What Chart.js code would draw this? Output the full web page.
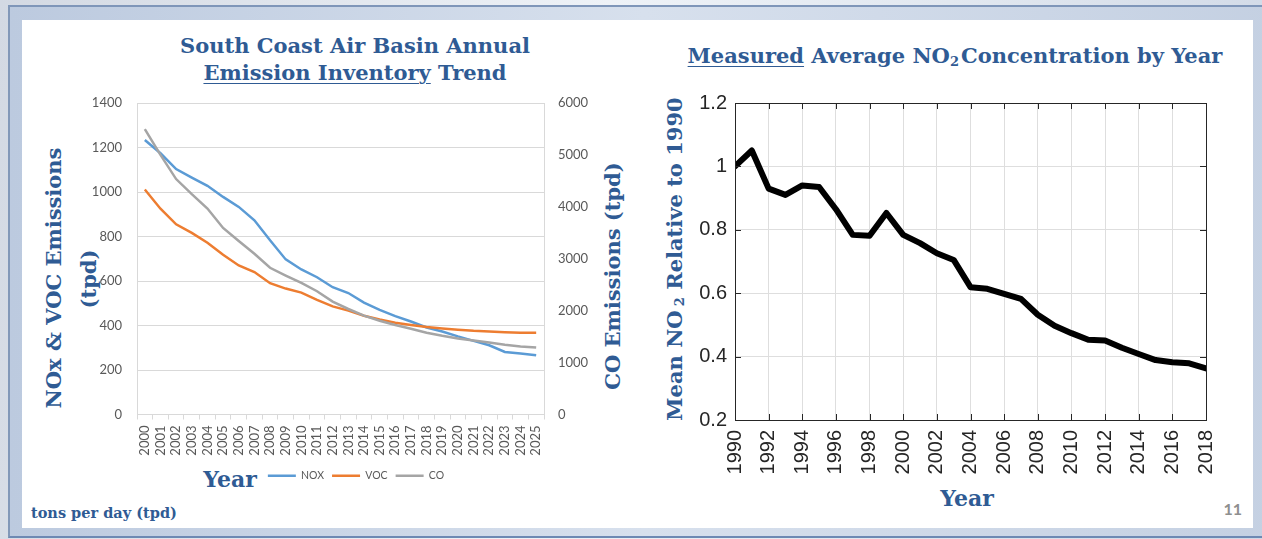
<!DOCTYPE html>
<html>
<head>
<meta charset="utf-8">
<script src="https://cdn.jsdelivr.net/npm/chart.js@4.4.1/dist/chart.umd.min.js"></script>
<style>
  html, body { margin: 0; padding: 0; }
  body {
    width: 1262px; height: 539px; position: relative; overflow: hidden;
    background: linear-gradient(100deg, #d3d9e3 0%, #eef2f7 45%, #e2e8f0 70%, #cfd8e6 100%);
  }
  #frame {
    position: absolute; left: 8px; top: 5px; width: 1270px; height: 533px; box-sizing: border-box;
    border-left: 2px solid #8298b8; border-top: 2px solid #7f96b9; border-bottom: 2px solid #6d89b3;
    background: linear-gradient(90deg, #bccadf, #d7e0ed 50%, #c4d0e2);
  }
  #panel { position: absolute; left: 22px; top: 20px; width: 1231px; height: 508px; background: #fff; }
  .t {
    position: absolute; color: #2f5b94; font-family: "DejaVu Serif", serif; font-weight: bold;
    white-space: nowrap; line-height: 1;
  }
  .h { transform: translateX(-50%); }
  .v { transform: translate(-50%, -50%) rotate(-90deg); }
  .sub { font-size: 0.62em; vertical-align: -0.22em; }
  u { text-decoration-thickness: 1px; text-underline-offset: 3px; }
  canvas { position: absolute; }
</style>
</head>
<body>
<div id="frame"></div>
<div id="panel"></div>

<div class="t h" style="left:355px; top:35px; font-size:21px;">South Coast Air Basin Annual</div>
<div class="t h" style="left:355px; top:62px; font-size:21px;"><u>Emission Inventory</u> Trend</div>
<div class="t v" style="left:53px; top:278px; font-size:21px;">NOx &amp; VOC Emissions</div>
<div class="t v" style="left:88px; top:279px; font-size:21px;">(tpd)</div>
<div class="t v" style="left:612px; top:276px; font-size:21px;">CO Emissions (tpd)</div>
<div class="t h" style="left:230px; top:468px; font-size:22px;">Year</div>
<div class="t" style="left:31px; top:506px; font-size:14.5px;">tons per day (tpd)</div>

<div class="t h" style="left:955px; top:45px; font-size:21px;"><u>Measured</u> Average NO<span class="sub">2</span><span style="margin-left:2px">Concentration by Year</span></div>
<div class="t v" style="left:675px; top:259px; font-size:21px;">Mean NO&thinsp;<span class="sub">2</span> Relative to 1990</div>
<div class="t h" style="left:967px; top:487px; font-size:22px;">Year</div>
<div style="position:absolute; right:20px; top:501px; font-family:Lato, sans-serif; font-weight:bold; font-size:16px; line-height:1; color:#8f8f8f;">11</div>

<canvas id="emis" width="672" height="401" style="left:20px; top:90px;"></canvas>
<canvas id="no2" width="540" height="400" style="left:690px; top:90px;"></canvas>

<script>
// emission inventory (tpd)
const years = ['2000', '2001', '2002', '2003', '2004', '2005', '2006', '2007', '2008', '2009',
  '2010', '2011', '2012', '2013', '2014', '2015', '2016', '2017', '2018', '2019',
  '2020', '2021', '2022', '2023', '2024', '2025'];
const nox = [1234, 1174, 1103, 1065, 1028, 978, 933, 873, 783, 697, 652, 617, 572, 546, 503, 470,
  442, 418, 391, 373, 351, 331, 311, 281, 274, 266];
const voc = [1011, 925, 855, 816, 772, 718, 670, 640, 590, 566, 548, 515, 486, 467, 444, 427,
  412, 402, 393, 387, 381, 376, 373, 370, 367, 367];
const co = [5497, 5000, 4535, 4245, 3968, 3594, 3342, 3097, 2826, 2677, 2535, 2374, 2174, 2032,
  1903, 1806, 1723, 1652, 1574, 1516, 1465, 1426, 1387, 1342, 1310, 1290];

// measured NO2 relative to 1990
const no2Years = [1990, 1991, 1992, 1993, 1994, 1995, 1996, 1997, 1998, 1999, 2000, 2001, 2002,
  2003, 2004, 2005, 2006, 2007, 2008, 2009, 2010, 2011, 2012, 2013, 2014, 2015, 2016, 2017, 2018];
const no2 = [1.0, 1.05, 0.93, 0.91, 0.94, 0.935, 0.865, 0.784, 0.781, 0.853, 0.784, 0.758, 0.726,
  0.705, 0.619, 0.614, 0.598, 0.582, 0.532, 0.497, 0.474, 0.453, 0.451, 0.428, 0.408, 0.389,
  0.382, 0.379, 0.363];

const tickFont = { family: 'Lato', size: 13 };
const excelGrey = '#d9d9d9';
const plain = v => String(v);

new Chart(document.getElementById('emis').getContext('2d'), {
  type: 'line',
  data: {
    labels: years,
    datasets: [
      { label: 'NOX', data: nox, yAxisID: 'y', borderColor: '#5b9bd5', backgroundColor: '#5b9bd5', borderWidth: 2.5, pointRadius: 0, order: 3 },
      { label: 'VOC', data: voc, yAxisID: 'y', borderColor: '#ed7d31', backgroundColor: '#ed7d31', borderWidth: 2.5, pointRadius: 0, order: 2 },
      { label: 'CO', data: co, yAxisID: 'y1', borderColor: '#a5a5a5', backgroundColor: '#a5a5a5', borderWidth: 2.5, pointRadius: 0, order: 1 }
    ]
  },
  options: {
    responsive: false,
    animation: false,
    layout: { padding: { top: 13, left: 0, right: 0, bottom: 0 } },
    plugins: {
      legend: {
        position: 'bottom',
        labels: {
          usePointStyle: true,
          pointStyle: 'line',
          pointStyleWidth: 28,
          padding: 8,
          color: '#595959',
          font: { family: 'Lato', size: 10.5 },
          sort: (a, b) => a.datasetIndex - b.datasetIndex
        }
      },
      tooltip: { enabled: false }
    },
    scales: {
      x: {
        offset: true,
        grid: { offset: true, drawOnChartArea: false, tickLength: 5, color: excelGrey },
        border: { color: excelGrey },
        ticks: { autoSkip: false, minRotation: 90, maxRotation: 90, padding: 6, color: '#595959', font: tickFont },
        afterFit: s => { s.height = 48; s.paddingLeft = 0; s.paddingRight = 0; }
      },
      y: {
        position: 'left',
        min: 0,
        max: 1400,
        ticks: { stepSize: 200, padding: 15, color: '#595959', font: tickFont, callback: plain },
        grid: { color: excelGrey, drawTicks: false },
        border: { color: excelGrey },
        afterFit: s => { s.width = 117; s.paddingTop = 0; s.paddingBottom = 0; }
      },
      y1: {
        position: 'right',
        min: 0,
        max: 6000,
        ticks: { stepSize: 1000, padding: 14, color: '#595959', font: tickFont, callback: plain },
        grid: { drawOnChartArea: false, drawTicks: false },
        border: { color: excelGrey },
        afterFit: s => { s.width = 148; s.paddingTop = 0; s.paddingBottom = 0; }
      }
    }
  }
});

// matlab style box with inward tick marks
const boxTicks = {
  id: 'boxTicks',
  afterDatasetsDraw(chart) {
    const { ctx, chartArea: a, scales: { x, y } } = chart;
    const len = 6;
    ctx.save();
    ctx.strokeStyle = '#262626';
    ctx.lineWidth = 1;
    ctx.beginPath();
    x.ticks.forEach(t => {
      const px = Math.round(x.getPixelForValue(t.value)) + 0.5;
      ctx.moveTo(px, a.top); ctx.lineTo(px, a.top + len);
      ctx.moveTo(px, a.bottom); ctx.lineTo(px, a.bottom - len);
    });
    y.ticks.forEach(t => {
      const py = Math.round(y.getPixelForValue(t.value)) + 0.5;
      ctx.moveTo(a.left, py); ctx.lineTo(a.left + len, py);
      ctx.moveTo(a.right, py); ctx.lineTo(a.right - len, py);
    });
    ctx.stroke();
    const l = Math.round(a.left) + 0.5, tp = Math.round(a.top) + 0.5;
    const r = Math.round(a.right) + 0.5, b = Math.round(a.bottom) + 0.5;
    ctx.strokeRect(l, tp, r - l, b - tp);
    ctx.restore();
  }
};

const matFont = { family: 'Liberation Sans', size: 20 };

new Chart(document.getElementById('no2').getContext('2d'), {
  type: 'line',
  data: {
    datasets: [{
      data: no2Years.map((yr, i) => ({ x: yr, y: no2[i] })),
      borderColor: '#000',
      borderWidth: 6,
      borderJoinStyle: 'round',
      borderCapStyle: 'round',
      pointRadius: 0
    }]
  },
  options: {
    responsive: false,
    animation: false,
    layout: { padding: { top: 13, right: 24, left: 0, bottom: 0 } },
    plugins: { legend: { display: false }, tooltip: { enabled: false } },
    scales: {
      x: {
        type: 'linear',
        min: 1990,
        max: 2018,
        ticks: { stepSize: 2, autoSkip: false, minRotation: 90, maxRotation: 90, padding: 10, color: '#262626', font: matFont, callback: plain },
        grid: { color: '#dedede', drawTicks: false },
        border: { display: false },
        afterFit: s => { s.height = 70; s.paddingLeft = 0; s.paddingRight = 0; }
      },
      y: {
        min: 0.2,
        max: 1.2,
        ticks: { stepSize: 0.2, padding: 8, color: '#262626', font: matFont, callback: v => String(Math.round(v * 10) / 10) },
        grid: { color: '#dedede', drawTicks: false },
        border: { display: false },
        afterFit: s => { s.width = 45; s.paddingTop = 0; s.paddingBottom = 0; }
      }
    }
  },
  plugins: [boxTicks]
});
</script>
</body>
</html>
